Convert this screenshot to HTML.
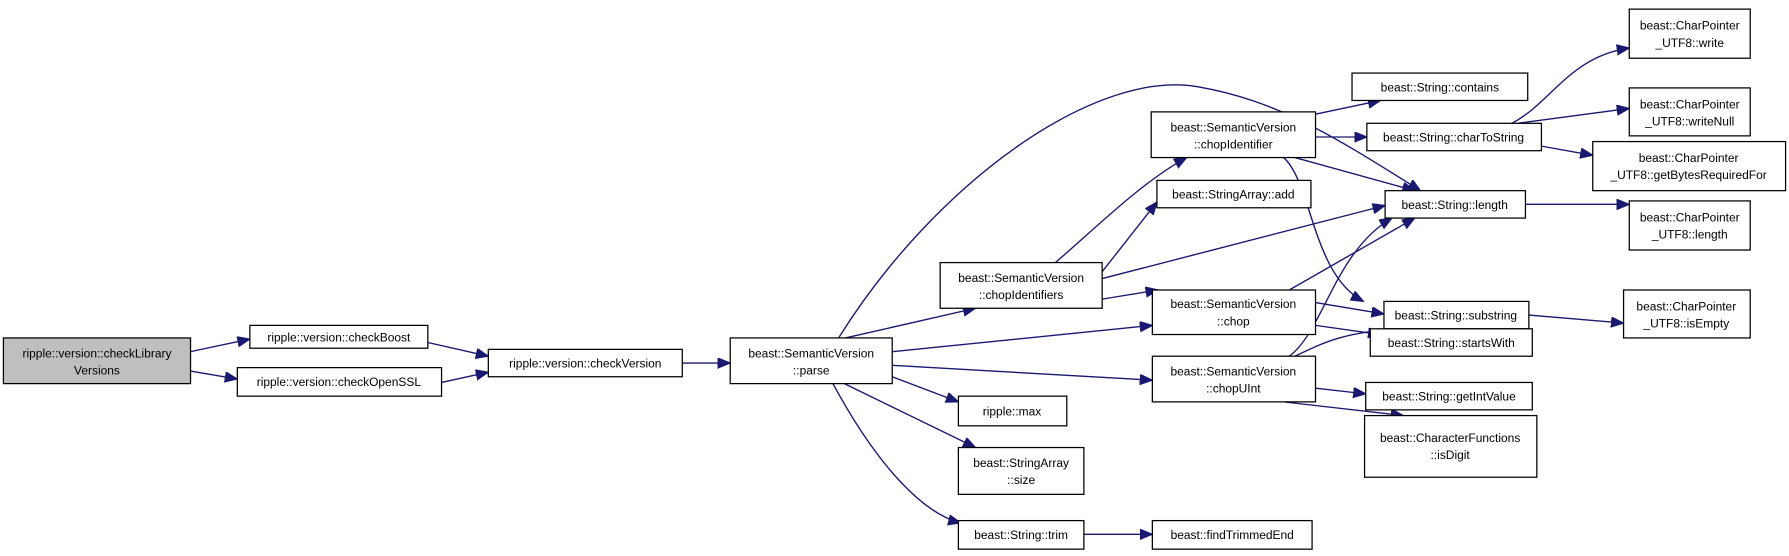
<!DOCTYPE html>
<html><head><meta charset="utf-8"><style>
html,body{margin:0;padding:0;background:#fff;}
svg{display:block;}
text{font-family:"Liberation Sans",sans-serif;font-size:10.5px;fill:#000;text-anchor:middle;}
rect{fill:#fff;stroke:#000;stroke-width:1.1;}
path.e{fill:none;stroke:#191970;stroke-width:1.2;}
</style></head><body>
<svg width="1789" height="556" viewBox="0 0 1568 487" preserveAspectRatio="none" xmlns="http://www.w3.org/2000/svg">
<defs><marker id="a" markerUnits="userSpaceOnUse" markerWidth="13" markerHeight="10" refX="11" refY="4.5" orient="auto"><path d="M0,0 L11,4.5 L0,9 Z" fill="#191970" stroke="#191970"/></marker></defs>
<g marker-end="url(#a)">
<path class="e" d="M167,308 L219,297"/>
<path class="e" d="M167,325 L208,332"/>
<path class="e" d="M375,300 L428,312"/>
<path class="e" d="M387,335 L428,326"/>
<path class="e" d="M598,318 L640,318"/>
<path class="e" d="M741,296 L855,270"/>
<path class="e" d="M735,296 C820,160 960,60 1050,76 C1120,88 1170,120 1245,167"/>
<path class="e" d="M782,308 L1010,285"/>
<path class="e" d="M782,320 L1010,333"/>
<path class="e" d="M782,330 L840,352"/>
<path class="e" d="M740,336 L855,392"/>
<path class="e" d="M730,336 C770,410 810,450 842,458"/>
<path class="e" d="M950,468 L1010,468"/>
<path class="e" d="M925,230 C960,200 1000,160 1040,138"/>
<path class="e" d="M966,238 L1014,177"/>
<path class="e" d="M966,244 L1214,180"/>
<path class="e" d="M966,262 L1015,254"/>
<path class="e" d="M1153,100 L1210,88"/>
<path class="e" d="M1153,120 L1198,120"/>
<path class="e" d="M1135,138 L1240,167"/>
<path class="e" d="M1125,138 C1150,160 1150,240 1195,264"/>
<path class="e" d="M1325,108 C1360,90 1375,50 1428,42"/>
<path class="e" d="M1330,108 L1428,95"/>
<path class="e" d="M1351,128 L1396,136"/>
<path class="e" d="M1337,179 L1428,179"/>
<path class="e" d="M1130,254 L1240,191"/>
<path class="e" d="M1153,265 L1213,275"/>
<path class="e" d="M1153,285 L1210,293"/>
<path class="e" d="M1130,312 C1160,290 1170,220 1220,191"/>
<path class="e" d="M1135,312 C1160,300 1180,290 1230,288"/>
<path class="e" d="M1153,340 L1197,345"/>
<path class="e" d="M1125,352 L1230,364"/>
<path class="e" d="M1340,276 L1423,283"/>
</g>
<rect x="3" y="296" width="164" height="40" style="fill:#bfbfbf"/><text x="85" y="313">ripple::version::checkLibrary</text><text x="85" y="328">Versions</text>
<rect x="219" y="285" width="156" height="20"/><text x="297" y="299">ripple::version::checkBoost</text>
<rect x="208" y="322" width="179" height="25"/><text x="297" y="338">ripple::version::checkOpenSSL</text>
<rect x="428" y="306" width="170" height="24"/><text x="513" y="322">ripple::version::checkVersion</text>
<rect x="640" y="296" width="142" height="40"/><text x="711" y="313">beast::SemanticVersion</text><text x="711" y="328">::parse</text>
<rect x="824" y="230" width="142" height="40"/><text x="895" y="247">beast::SemanticVersion</text><text x="895" y="262">::chopIdentifiers</text>
<rect x="1009" y="98" width="144" height="40"/><text x="1081" y="115">beast::SemanticVersion</text><text x="1081" y="130">::chopIdentifier</text>
<rect x="1014" y="158" width="135" height="24"/><text x="1081" y="174">beast::StringArray::add</text>
<rect x="1185" y="64" width="154" height="24"/><text x="1262" y="80">beast::String::contains</text>
<rect x="1198" y="108" width="153" height="24"/><text x="1274" y="124">beast::String::charToString</text>
<rect x="1214" y="167" width="123" height="24"/><text x="1275" y="183">beast::String::length</text>
<rect x="1010" y="254" width="143" height="39"/><text x="1081" y="270">beast::SemanticVersion</text><text x="1081" y="285">::chop</text>
<rect x="1213" y="264" width="127" height="24"/><text x="1276" y="280">beast::String::substring</text>
<rect x="1201" y="288" width="142" height="24"/><text x="1272" y="304">beast::String::startsWith</text>
<rect x="1010" y="312" width="143" height="40"/><text x="1081" y="329">beast::SemanticVersion</text><text x="1081" y="344">::chopUInt</text>
<rect x="1197" y="335" width="146" height="24"/><text x="1270" y="351">beast::String::getIntValue</text>
<rect x="1196" y="364" width="151" height="54"/><text x="1271" y="387">beast::CharacterFunctions</text><text x="1271" y="402">::isDigit</text>
<rect x="840" y="347" width="95" height="26"/><text x="887" y="364">ripple::max</text>
<rect x="840" y="392" width="110" height="41"/><text x="895" y="409">beast::StringArray</text><text x="895" y="424">::size</text>
<rect x="840" y="456" width="110" height="25"/><text x="895" y="472">beast::String::trim</text>
<rect x="1010" y="456" width="140" height="25"/><text x="1080" y="472">beast::findTrimmedEnd</text>
<rect x="1428" y="8" width="106" height="43"/><text x="1481" y="26">beast::CharPointer</text><text x="1481" y="41">_UTF8::write</text>
<rect x="1428" y="77" width="106" height="42"/><text x="1481" y="95">beast::CharPointer</text><text x="1481" y="110">_UTF8::writeNull</text>
<rect x="1396" y="124" width="169" height="43"/><text x="1480" y="142">beast::CharPointer</text><text x="1480" y="157">_UTF8::getBytesRequiredFor</text>
<rect x="1428" y="176" width="106" height="43"/><text x="1481" y="194">beast::CharPointer</text><text x="1481" y="209">_UTF8::length</text>
<rect x="1423" y="254" width="111" height="42"/><text x="1478" y="272">beast::CharPointer</text><text x="1478" y="287">_UTF8::isEmpty</text>
</svg>
</body></html>
